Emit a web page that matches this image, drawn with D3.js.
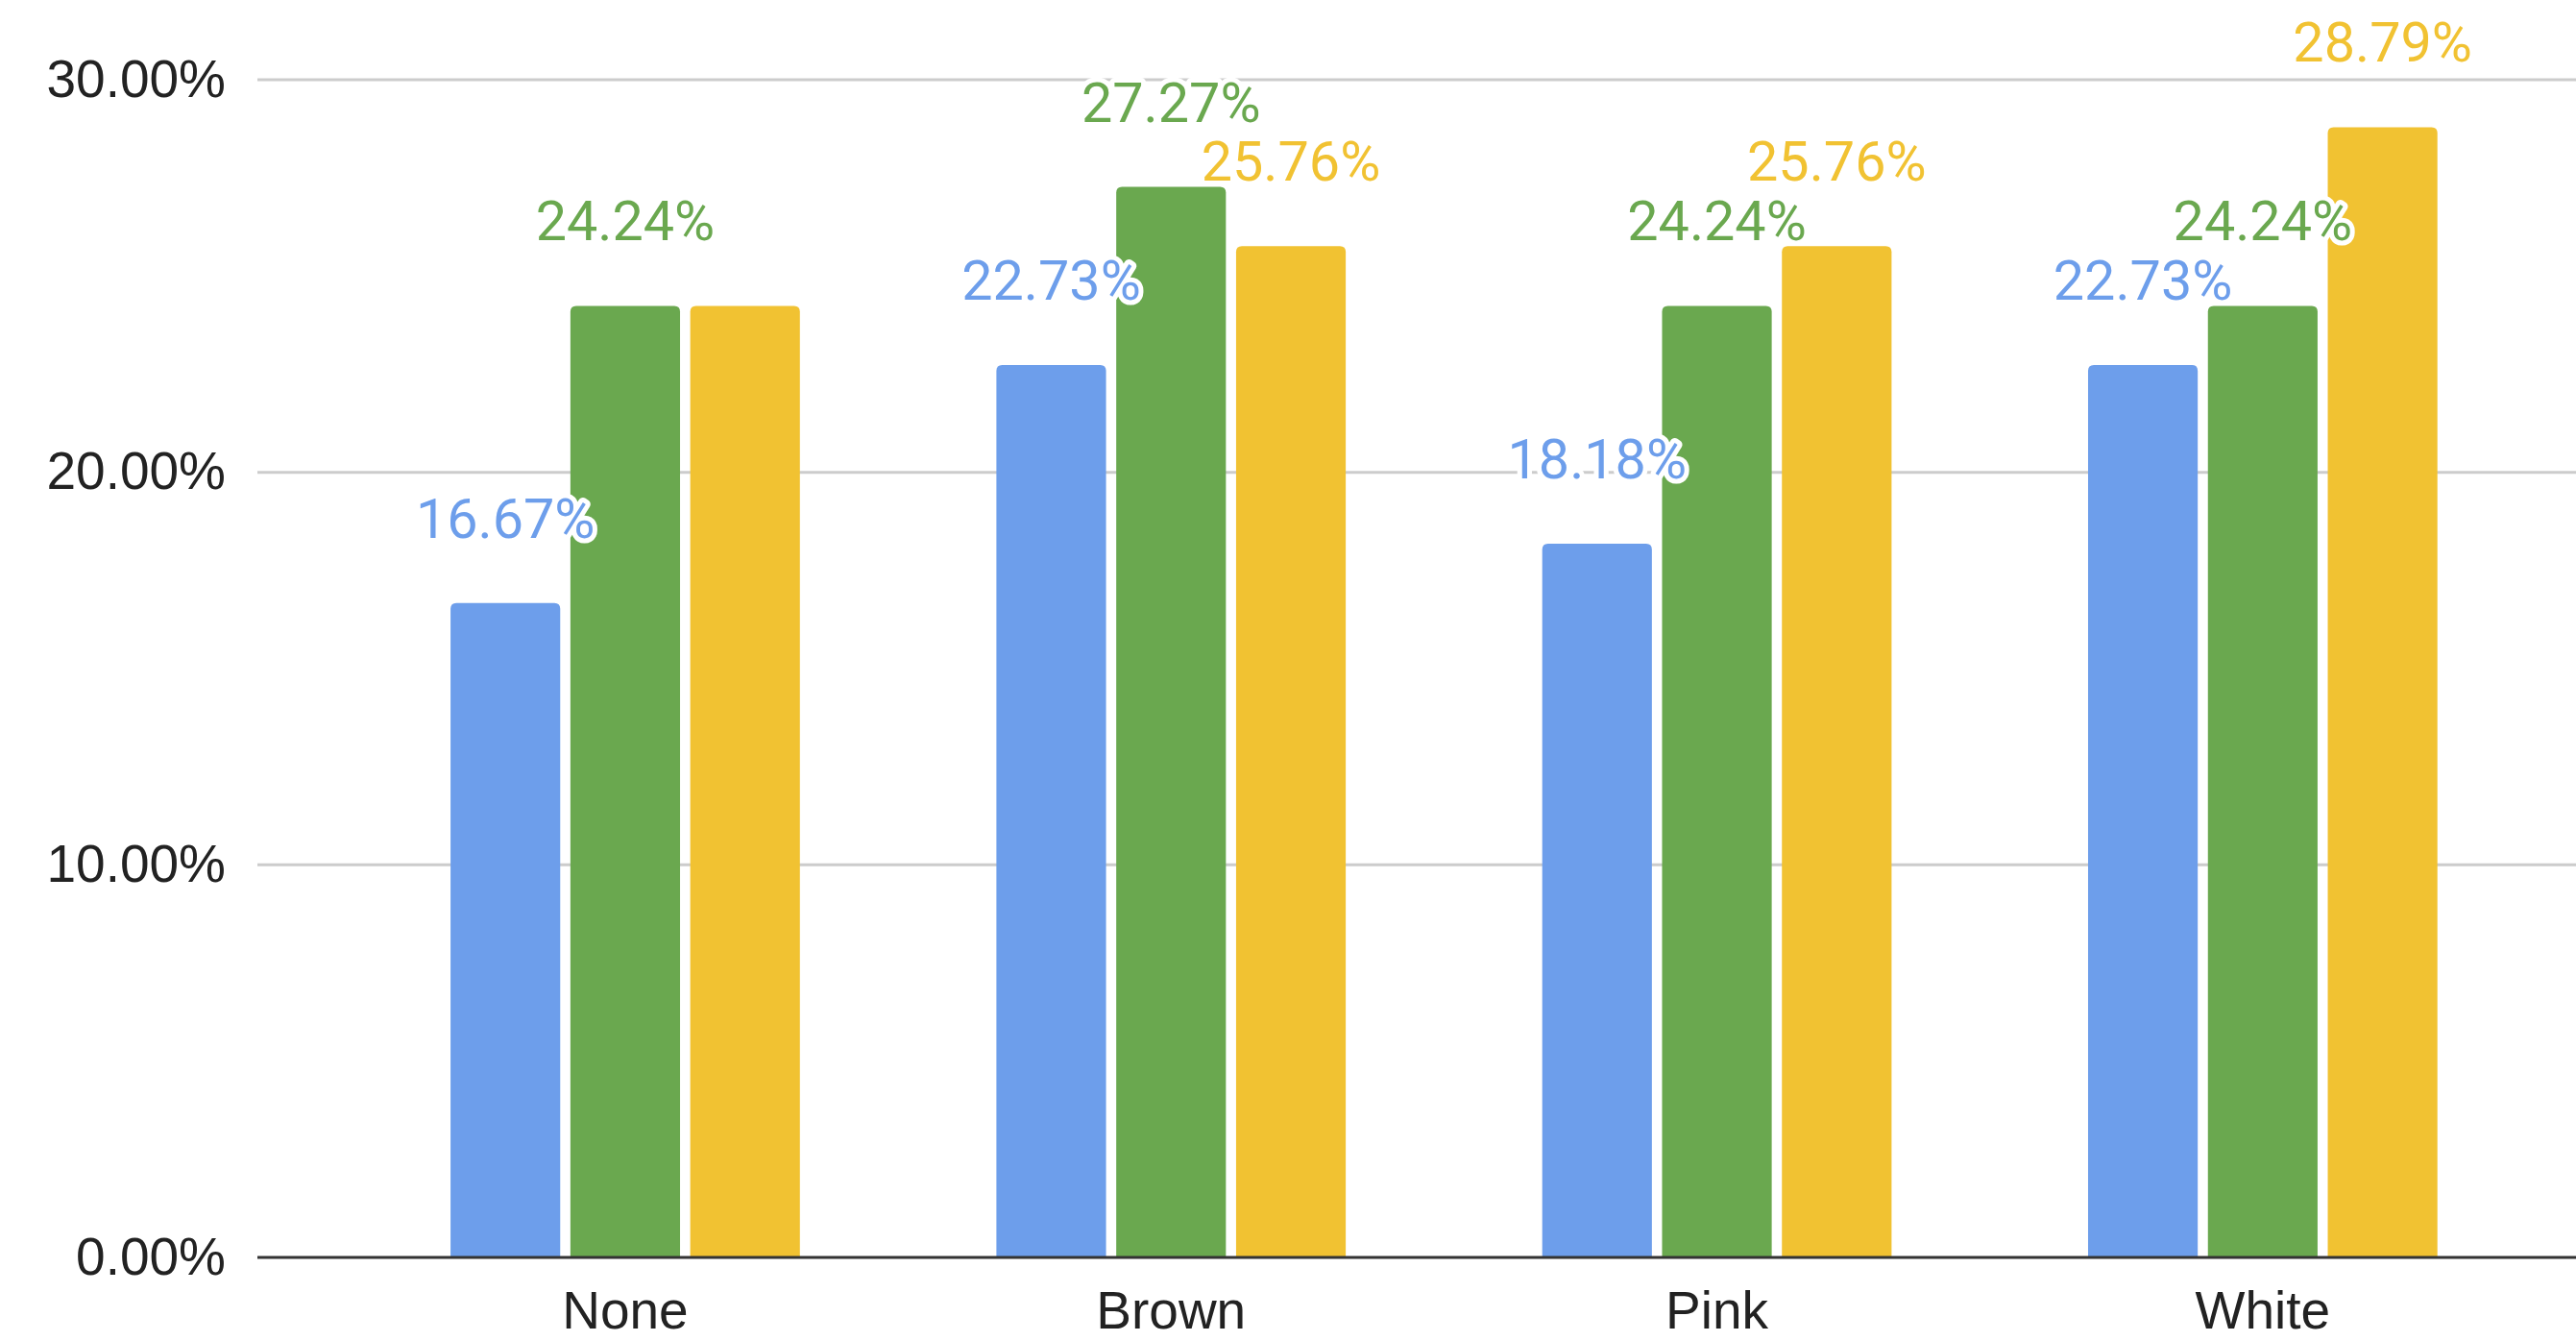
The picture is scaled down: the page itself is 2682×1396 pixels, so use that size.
<!DOCTYPE html>
<html>
<head>
<meta charset="utf-8">
<script src="https://cdn.jsdelivr.net/npm/d3@7/dist/d3.min.js"></script>
<style>
  html, body { margin: 0; padding: 0; background: #ffffff; }
  svg { display: block; }
</style>
</head>
<body>
<svg id="chart" width="2682" height="1396"></svg>
<script>
// Category labels along the x axis
const categories = ["None", "Brown", "Pink", "White"];
// Series shown in each category (left to right)
const seriesNames = ["Series 1", "Series 2", "Series 3"];
const series1 = [16.67, 22.73, 18.18, 22.73];
const series2 = [24.24, 27.27, 24.24, 24.24];
const series3 = [24.24, 25.76, 25.76, 28.79];
const seriesColors = ["#6d9eeb", "#6aa84f", "#f1c232"];
// Value axis ticks (percent)
const yTicks = [0, 10, 20, 30];

const seriesValues = [series1, series2, series3];
const rows = categories.map((c, i) => ({
  category: c,
  values: seriesNames.map((s, j) => ({ series: s, idx: j, value: seriesValues[j][i] }))
}));

const plot = { left: 268, right: 2682, top: 83, bottom: 1309 };

const svg = d3.select("#chart");

const y = d3.scaleLinear().domain([0, 30]).range([plot.bottom, plot.top]);

const x0 = d3.scaleBand()
  .domain(categories)
  .range([366.8, 2640])
  .paddingInner(0.36)
  .paddingOuter(0.18);

const x1 = d3.scaleBand()
  .domain(seriesNames)
  .range([0, x0.bandwidth()])
  .paddingInner(0.085);

// Horizontal gridlines
svg.append("g")
  .selectAll("line")
  .data(yTicks.filter(t => t > 0))
  .join("line")
  .attr("x1", plot.left)
  .attr("x2", plot.right)
  .attr("y1", d => y(d))
  .attr("y2", d => y(d))
  .attr("stroke", "#cccccc")
  .attr("stroke-width", 3);

// Value axis labels
const yAxis = d3.axisLeft(y)
  .tickValues(yTicks)
  .tickFormat(d => d.toFixed(2) + "%")
  .tickSize(0)
  .tickPadding(33);

const yAxisG = svg.append("g")
  .attr("transform", `translate(${plot.left},0)`)
  .call(yAxis);
yAxisG.select(".domain").remove();
yAxisG.selectAll("text")
  .attr("font-family", "'Liberation Sans', Arial, sans-serif")
  .attr("font-size", 55)
  .attr("fill", "#222222")
  .attr("dy", "0.31em");

// Bars with rounded top corners
function topRoundedRect(x, yTop, w, h, r) {
  r = Math.min(r, w / 2, h);
  return `M${x},${yTop + h}` +
    `V${yTop + r}` +
    `Q${x},${yTop} ${x + r},${yTop}` +
    `H${x + w - r}` +
    `Q${x + w},${yTop} ${x + w},${yTop + r}` +
    `V${yTop + h}Z`;
}

const groups = svg.append("g")
  .selectAll("g")
  .data(rows)
  .join("g")
  .attr("transform", d => `translate(${x0(d.category)},0)`);

groups.selectAll("path")
  .data(d => d.values)
  .join("path")
  .attr("d", d => topRoundedRect(x1(d.series), y(d.value), x1.bandwidth(), y(0) - y(d.value), 6))
  .attr("fill", d => seriesColors[d.idx]);

// Category axis baseline
svg.append("line")
  .attr("x1", plot.left)
  .attr("x2", plot.right)
  .attr("y1", y(0))
  .attr("y2", y(0))
  .attr("stroke", "#333333")
  .attr("stroke-width", 3);

// Category labels
const xAxis = d3.axisBottom(x0).tickSize(0).tickPadding(0);
const xAxisG = svg.append("g")
  .attr("transform", `translate(0,${y(0)})`)
  .call(xAxis);
xAxisG.select(".domain").remove();
xAxisG.selectAll("text")
  .attr("font-family", "'Liberation Sans', Arial, sans-serif")
  .attr("font-size", 55)
  .attr("fill", "#222222")
  .attr("y", 74)
  .attr("dy", null);

// Value labels above each bar; a label that would collide with one already placed is skipped
const labelSize = 57.5;
const labelLayer = svg.append("g");
const placed = [];
rows.forEach(row => {
  row.values.forEach(v => {
    const cx = x0(row.category) + x1(v.series) + x1.bandwidth() / 2;
    const baseline = y(v.value) - 68;
    const t = labelLayer.append("text")
      .attr("x", cx)
      .attr("y", baseline)
      .attr("text-anchor", "middle")
      .attr("font-family", "Roboto, 'Noto Sans', sans-serif")
      .attr("font-size", labelSize)
      .attr("fill", seriesColors[v.idx])
      .attr("stroke", "#ffffff")
      .attr("stroke-width", 10)
      .attr("stroke-linejoin", "round")
      .attr("paint-order", "stroke")
      .text(v.value.toFixed(2) + "%");
    const w = t.node().getComputedTextLength();
    const box = { x0: cx - w / 2, x1: cx + w / 2, y0: baseline - 0.72 * labelSize, y1: baseline };
    const hit = placed.some(b => box.x0 < b.x1 && box.x1 > b.x0 && box.y0 < b.y1 && box.y1 > b.y0);
    if (hit) {
      t.remove();
    } else {
      placed.push(box);
    }
  });
});
</script>
</body>
</html>
